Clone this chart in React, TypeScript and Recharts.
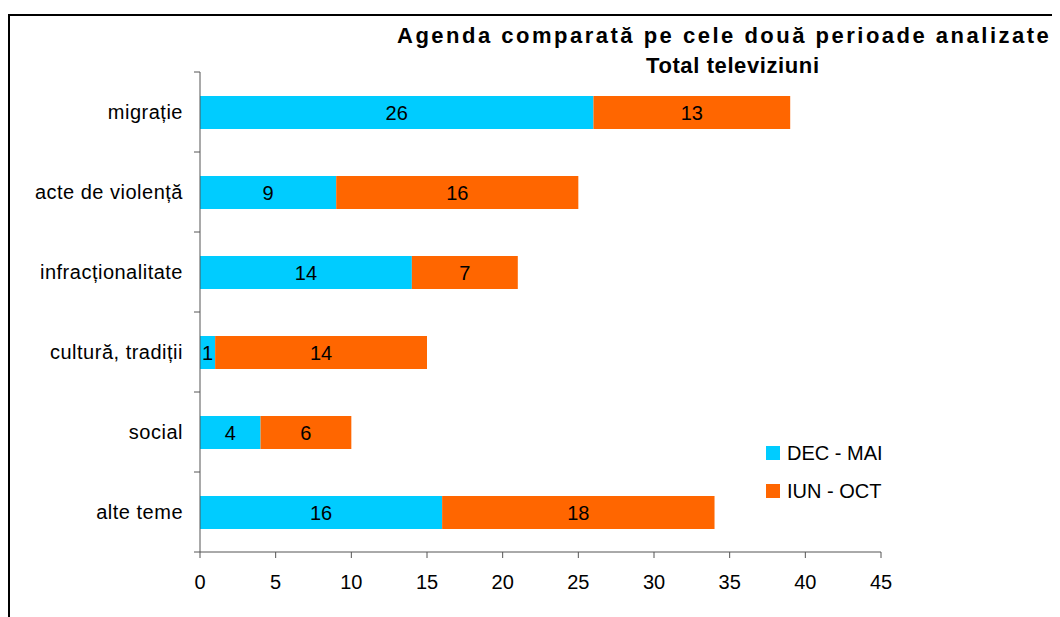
import { BarChart, Bar, XAxis, YAxis, LabelList, Legend } from "recharts"

// categories, top to bottom
const topics = [
  "migrație",
  "acte de violență",
  "infracționalitate",
  "cultură, tradiții",
  "social",
  "alte teme",
]

// series values
const decMai = [26, 9, 14, 1, 4, 16]
const iunOct = [13, 16, 7, 14, 6, 18]

const xTicks = [0, 5, 10, 15, 20, 25, 30, 35, 40, 45]

const seriesNames = ["DEC - MAI", "IUN - OCT"]
const seriesColors = ["#00CCFF", "#FF6600"]

const data = topics.map((topic, i) => ({
  topic,
  decMai: decMai[i],
  iunOct: iunOct[i],
}))

const FONT = '"Liberation Sans", Arial, sans-serif'
const AXIS_COLOR = "#555"
const TICK_SIZE = 6
const TICK_MARGIN = 11

// category label + Excel-style tick marks on the band boundaries
const CategoryTick = (props: any) => {
  const { x, y, payload, index } = props
  const half = payload && payload.offset ? payload.offset : 40
  const axisX = x + TICK_MARGIN + TICK_SIZE
  return (
    <g>
      <text
        x={x}
        y={y}
        dy="0.355em"
        textAnchor="end"
        fill="#000"
        fontSize={20}
        letterSpacing={0.5}
        fontFamily={FONT}
      >
        {payload.value}
      </text>
      <line x1={axisX - TICK_SIZE} x2={axisX} y1={y - half} y2={y - half} stroke={AXIS_COLOR} />
      {index === topics.length - 1 && (
        <line x1={axisX - TICK_SIZE} x2={axisX} y1={y + half} y2={y + half} stroke={AXIS_COLOR} />
      )}
    </g>
  )
}

const LegendBox = () => (
  <div style={{ fontFamily: FONT, fontSize: 20, color: "#000" }}>
    {seriesNames.map((name, i) => (
      <div key={name} style={{ display: "flex", alignItems: "center", height: 38 }}>
        <span
          style={{
            display: "inline-block",
            width: 14,
            height: 14,
            background: seriesColors[i],
            marginRight: 7,
          }}
        />
        <span>{name}</span>
      </div>
    ))}
  </div>
)

export default function App() {
  return (
    <div style={{ position: "relative", width: 1052, height: 609, overflow: "hidden", fontFamily: FONT }}>
      {/* chart frame, continues past the right and bottom edges */}
      <div
        style={{
          position: "absolute",
          left: 0,
          top: 6,
          width: 1200,
          height: 800,
          borderLeft: "2px solid #000",
          borderTop: "2px solid #000",
        }}
      />
      <BarChart
        width={1052}
        height={609}
        data={data}
        layout="vertical"
        margin={{ top: 64, right: 179, bottom: 25, left: 0 }}
        style={{ position: "absolute", left: 0, top: 0 }}
      >
        <XAxis
          type="number"
          domain={[0, 45]}
          ticks={xTicks}
          interval={0}
          height={40}
          tickSize={TICK_SIZE}
          tickMargin={17}
          stroke={AXIS_COLOR}
          tick={{ fill: "#000", fontSize: 20, fontFamily: FONT }}
        />
        <YAxis
          type="category"
          dataKey="topic"
          width={192}
          tickLine={false}
          tickSize={TICK_SIZE}
          tickMargin={TICK_MARGIN}
          stroke={AXIS_COLOR}
          interval={0}
          tick={<CategoryTick />}
        />
        <Legend
          layout="horizontal"
          align="center"
          verticalAlign="middle"
          content={<LegendBox />}
          wrapperStyle={{ left: 758, top: 426, width: "auto" }}
        />
        <Bar dataKey="decMai" stackId="a" fill={seriesColors[0]} barSize={33} isAnimationActive={false}>
          <LabelList dataKey="decMai" position="center" fill="#000" fontSize={20} fontFamily={FONT} />
        </Bar>
        <Bar dataKey="iunOct" stackId="a" fill={seriesColors[1]} barSize={33} isAnimationActive={false}>
          <LabelList dataKey="iunOct" position="center" fill="#000" fontSize={20} fontFamily={FONT} />
        </Bar>
      </BarChart>
      <svg width={1052} height={90} style={{ position: "absolute", left: 0, top: 0 }}>
        <text x={389} y={35} fontSize={22} fontWeight="bold" letterSpacing={2.5} fontFamily={FONT} fill="#000">
          Agenda comparată pe cele două perioade analizate
        </text>
        <text x={638} y={65} fontSize={22} fontWeight="bold" letterSpacing={0.6} fontFamily={FONT} fill="#000">
          Total televiziuni
        </text>
      </svg>
    </div>
  )
}
